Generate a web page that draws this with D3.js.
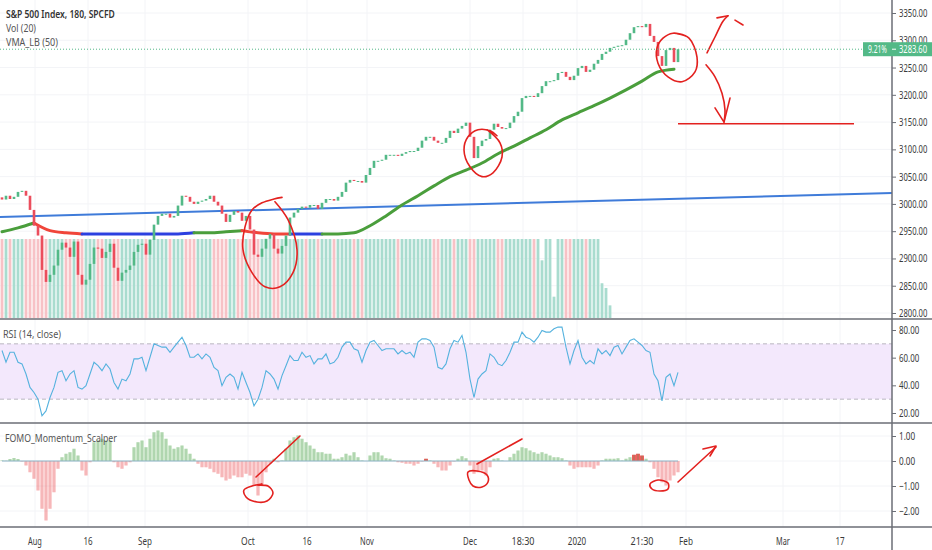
<!DOCTYPE html>
<html>
<head>
<meta charset="utf-8">
<script src="https://cdn.jsdelivr.net/npm/d3@7"></script>
<style>
html, body { margin: 0; padding: 0; background: #fff; }
svg { display: block; font-family: "Noto Sans", Roboto, sans-serif; }
</style>
</head>
<body>
<div id="chart"></div>
<script>
// 180 minute closes, one per bar
const closes = [
  3008, 3015, 3009, 3013, 3022, 3024, 3015, 2989, 2960, 2942,
  2879, 2857, 2870, 2887, 2916, 2929, 2920, 2903, 2931, 2870,
  2852, 2861, 2890, 2920, 2918, 2901, 2912, 2927, 2883, 2859,
  2874, 2879, 2887, 2912, 2925, 2927, 2907, 2934, 2962, 2978,
  2982, 2982, 2975, 2978, 2997, 3015, 3013, 3004, 3000, 3004,
  3006, 3009, 3015, 3004, 2997, 2982, 2967, 2980, 2987, 2984,
  2969, 2978, 2953, 2907, 2903, 2918, 2936, 2945, 2918, 2909,
  2923, 2942, 2975, 2984, 2991, 2995, 2993, 2998, 2998, 2991,
  3002, 3009, 3009, 3006, 3013, 3022, 3039, 3044, 3042, 3042,
  3039, 3053, 3066, 3079, 3079, 3081, 3090, 3090, 3090, 3088,
  3092, 3095, 3097, 3097, 3103, 3116, 3123, 3123, 3116, 3112,
  3112, 3121, 3134, 3130, 3138, 3143, 3149, 3123, 3084, 3106,
  3116, 3119, 3136, 3147, 3141, 3138, 3139, 3149, 3161, 3169,
  3194, 3198, 3198, 3196, 3203, 3216, 3225, 3225, 3227, 3240,
  3242, 3233, 3227, 3235, 3249, 3253, 3242, 3246, 3257, 3264,
  3275, 3279, 3286, 3288, 3290, 3291, 3301, 3313, 3324, 3326,
  3324, 3330, 3308, 3297, 3271, 3253, 3282, 3286, 3260, 3283.6
]
const firstOpen = 3012
const lastChange = '9.21%'

// volume, in % of the pane (most bars are clipped at the top)
const volumes = [
  100, 100, 100, 100, 100, 100, 100, 100, 100, 100,
  100, 100, 100, 100, 100, 100, 100, 100, 100, 100,
  100, 100, 100, 100, 100, 100, 100, 100, 100, 100,
  100, 100, 100, 100, 100, 100, 100, 100, 100, 100,
  100, 100, 100, 100, 100, 100, 100, 100, 100, 100,
  100, 100, 100, 100, 100, 100, 100, 100, 100, 100,
  100, 100, 100, 100, 100, 100, 100, 100, 100, 100,
  100, 100, 100, 100, 100, 100, 100, 100, 100, 100,
  100, 100, 100, 100, 100, 100, 100, 100, 100, 100,
  100, 100, 100, 100, 100, 100, 100, 100, 100, 100,
  100, 100, 100, 100, 100, 100, 100, 100, 100, 100,
  100, 100, 100, 100, 100, 100, 100, 100, 100, 100,
  100, 100, 100, 100, 100, 100, 100, 100, 100, 100,
  100, 100, 100, 100, 100, 73, 100, 100, 27, 100,
  100, 100, 100, 100, 100, 100, 100, 100, 100, 100,
  44, 38, 16
]

// VMA_LB (50), one point every 4 bars, with its state (g up, r down, b flat)
const vmaValues = [
  2949, 2956, 2965, 2951, 2947, 2945, 2945, 2945, 2945, 2945,
  2945, 2945, 2947, 2947, 2949, 2951, 2947, 2945, 2945, 2945,
  2945, 2945, 2947, 2960, 2978, 2998, 3015, 3033, 3050, 3062,
  3075, 3092, 3106, 3121, 3136, 3154, 3167, 3180, 3194, 3209,
  3225, 3242, 3247
]
const vmaStates = [
  'g', 'g', 'g', 'r', 'r', 'r', 'b', 'b', 'b', 'b',
  'b', 'b', 'b', 'g', 'g', 'g', 'r', 'r', 'r', 'b',
  'b', 'g', 'g', 'g', 'g', 'g', 'g', 'g', 'g', 'g',
  'g', 'g', 'g', 'g', 'g', 'g', 'g', 'g', 'g', 'g',
  'g', 'g', 'g'
]

// RSI (14, close)
const rsiValues = [
  65.2, 56.7, 63.9, 63.9, 56.7, 55.5, 48.2, 38.5, 34.8, 30,
  17.9, 21.5, 31.2, 38.5, 49.4, 50.6, 43.3, 48.2, 50.6, 38.5,
  37.3, 39.7, 48.2, 56.7, 54.2, 50.6, 55.5, 51.8, 42.1, 37.3,
  44.5, 43.3, 48.2, 59.1, 59.1, 60.3, 50.6, 60.3, 70, 68.8,
  67.6, 67.6, 63.9, 67.6, 71.2, 74.8, 68.8, 60.3, 60.3, 62.7,
  59.1, 62.7, 60.3, 53, 50.6, 39.7, 45.8, 48.2, 45.8, 37.3,
  49.4, 42.1, 34.8, 25.2, 30, 38.5, 50.6, 48.2, 44.5, 37.3,
  47, 54.2, 61.5, 57.9, 57.9, 63.9, 60.3, 61.5, 55.5, 59.1,
  59.1, 62.7, 55.5, 56.7, 60.3, 67.6, 71.2,
  71.2, 66.4, 65.2, 56.7, 65.2, 71.2, 72.4, 68.8, 65.2, 66.4,
  66.4, 66.4, 62.7, 65.2, 62.7, 63.9, 60.3, 71.2, 73.6, 73.6,
  72.4, 67.6, 53, 51.8, 55.5, 66.4, 72.4, 71.2, 76.1, 63.9,
  44.5, 31.2, 44.5, 48.2, 50.6, 62.7, 60.3, 55.5, 54.2, 57.9,
  63.9, 71.2, 71.2, 78.5, 74.8, 73.6, 71.2, 74.8, 79.7, 78.5,
  78.5, 80.9, 82.1, 82.1, 67.6, 55.5, 65.2, 72.4, 60.3, 55.5,
  57.9, 55.5, 66.4, 62.7, 65.2, 61.5, 67.6, 68.8, 62.7, 67.6,
  72.4, 73.6, 71.2, 68.8, 65.2, 63.9, 48.2, 43.3, 28.8, 45.8,
  48.2, 39.7, 49.4
]
const rsiBand = [30, 70]

// FOMO_Momentum_Scalper histogram
const momValues = [
  0.02, 0.01, 0.08, 0.12, 0.08, -0.02, -0.18, -0.45, -0.71, -1.18,
  -1.91, -2.38, -1.91, -1.25, -0.31, 0.15, 0.29, 0.35, 0.49, 0.22,
  -0.38, -0.58, -0.05, 0.75, 0.82, 0.89, 0.82, 0.82, -0.05, -0.25,
  -0.31, -0.18, -0.05, 0.55, 0.75, 0.82, 0.55, 0.89, 1.15, 1.22,
  1.15, 0.89, 0.62, 0.49, 0.55, 0.62, 0.49, 0.29, 0.09, -0.11,
  -0.25, -0.25, -0.31, -0.45, -0.51, -0.65, -0.78, -0.71, -0.58, -0.65,
  -0.65, -0.51, -0.58, -0.98, -1.38, -0.98, -0.45, -0.11, 0.09, -0.05,
  0.02, 0.49, 0.82, 0.95, 1.02, 0.89, 0.75, 0.62, 0.49, 0.35,
  0.35, 0.29, 0.29, 0.09, 0.09, 0.15, 0.29,
  0.22, 0.35, 0.15, 0.02, 0, 0.22, 0.35, 0.35, 0.22, 0.11,
  0.09, 0.02, -0.05, -0.07, -0.11, -0.11, -0.18, -0.11, -0.02, 0.09,
  0.02, -0.11, -0.25, -0.38, -0.38, -0.18, -0.02, 0.09, 0.19, 0.11,
  -0.18, -0.51, -0.45, -0.38, -0.58, -0.25, 0.09, 0.11, 0.02, 0,
  0.15, 0.29, 0.42, 0.55, 0.51, 0.42, 0.35, 0.29, 0.35, 0.29,
  0.22, 0.15, 0.15, 0.11, 0.02, -0.18, -0.31, -0.25, -0.25, -0.25,
  -0.25, -0.31, -0.18, 0.02, 0.09, 0.09, 0.09, 0.11, 0.02, 0.09,
  0.15, 0.25, 0.29, 0.22, 0.09, -0.05, -0.31, -0.65, -0.85, -0.98,
  -0.78, -0.58, -0.45
]
const momStrongBars = [106, 158, 159, 160]

// long blue trend line and the red target line, [bar, price]
const trendLine = [[-0.5, 2976], [222.5, 3020]]
const targetLine = [[169, 3147], [213, 3147]]

// axis labels
const priceTicks = [2800, 2850, 2900, 2950, 3000, 3050, 3100, 3150, 3200, 3250, 3300, 3350]
const rsiTicks = [20, 40, 60, 80]
const momTicks = [-2, -1, 0, 1]
const xTickLabels = ['Aug', '16', 'Sep', 'Oct', '16', 'Nov', 'Dec', '18:30', '2020', '21:30', 'Feb', 'Mar', '17']
const xTickBars = [8.25, 21.5, 35.75, 61.5, 76.25, 91.25, 117, 130.25, 143.75, 160, 171, 195.25, 209.5]

// hand drawn marks, [bar, price] in the main pane and [bar, value] in the lower one
const mainNotes = [
  { pts: [[68.25, 3004], [71.5, 2971], [73.75, 2916], [72.75, 2874], [69.5, 2848], [65.75, 2848], [62.5, 2874], [60.25, 2916], [60.75, 2958], [62.5, 2989], [65, 3002], [68, 3009], [70, 3012]], curve: 'round' },
  { pts: [[121.25, 3136], [124.5, 3112], [125, 3086], [122.75, 3057], [120, 3050], [117, 3068], [115.5, 3099], [116.5, 3123], [119, 3136], [122, 3134], [123.75, 3125]], curve: 'round' },
  { pts: [[168.75, 3312], [171.75, 3304], [173.75, 3269], [173.25, 3242], [170, 3224], [166.5, 3233], [164, 3258], [163.75, 3286], [165.25, 3304], [167.75, 3313], [171, 3308]], curve: 'round' },
  { pts: [[176.25, 3277], [178.25, 3306], [180.25, 3335], [181.5, 3345]], curve: 'round' },
  { pts: [[178.75, 3341], [181.5, 3345]], curve: 'line' },
  { pts: [[183.25, 3337], [185.25, 3328]], curve: 'line' },
  { pts: [[176, 3255], [178.25, 3233], [180, 3203], [180.75, 3172], [180.5, 3150]], curve: 'round' },
  { pts: [[178.25, 3176], [180.5, 3150], [182, 3194]], curve: 'line' }
]
const momNotes = [
  { pts: [[63.75, -0.96], [66.5, -1.0], [67.75, -1.28], [66.25, -1.6], [63.75, -1.64], [61, -1.44], [60.5, -1.16], [62.5, -1.0], [65, -0.92]], curve: 'closed' },
  { pts: [[63.5, -0.64], [74.5, 1.0]], curve: 'line' },
  { pts: [[116.5, -0.44], [118.75, -0.4], [121.25, -0.56], [121.5, -0.84], [120, -1.04], [117.75, -1.0], [116.75, -0.76]], curve: 'closed' },
  { pts: [[118.75, -0.12], [130, 0.88]], curve: 'line' },
  { pts: [[162, -0.92], [164, -0.76], [166.5, -0.88], [166.5, -1.12], [164.5, -1.2], [162.5, -1.12]], curve: 'closed' },
  { pts: [[169, -0.84], [178.5, 0.56]], curve: 'line' },
  { pts: [[175.25, 0.48], [178.5, 0.6], [177, 0.2]], curve: 'line' }
]

const W = 932
const H = 550
const axisX = 892
const mainBottom = 319
const rsiBottom = 423
const momBottom = 527
const upColor = '#53b987'
const downColor = '#eb4d5c'
const noteColor = '#e3211f'
const lineGrey = '#6b6e76'
const textColor = '#3a3a3a'

const svg = d3.select('#chart').append('svg').attr('width', W).attr('height', H)

const x = d3.scaleLinear().domain([-0.5, 222.5]).range([0, axisX])
const priceY = d3.scaleLinear().domain([2800, 3350]).range([313, 13])
const volY = d3.scaleLinear().domain([0, 100]).range([318, 239])
const rsiY = d3.scaleLinear().domain([20, 80]).range([413, 330])
const momY = d3.scaleLinear().domain([-2, 1]).range([511, 436])

// squeeze a text horizontally to the width it has in the picture
function squeeze(sel, widthOf) {
  sel.each(function(d, i) {
    const t = d3.select(this)
    const tx = +t.attr('x') || 0
    const ty = +t.attr('y') || 0
    const natural = this.getComputedTextLength()
    const s = natural > 0 ? widthOf(this.textContent, d, i) / natural : 1
    t.attr('x', 0).attr('y', 0)
      .attr('transform', `translate(${tx},${ty}) scale(${s},1)`)
  })
}

const defs = svg.append('defs')
defs.append('clipPath').attr('id', 'clipMain')
  .append('rect').attr('x', 0).attr('y', 0).attr('width', axisX).attr('height', mainBottom)
defs.append('clipPath').attr('id', 'clipRsi')
  .append('rect').attr('x', 0).attr('y', mainBottom).attr('width', axisX).attr('height', rsiBottom - mainBottom)
defs.append('clipPath').attr('id', 'clipMom')
  .append('rect').attr('x', 0).attr('y', rsiBottom).attr('width', axisX).attr('height', momBottom - rsiBottom)

// faint grid
const grid = svg.append('g').attr('stroke', '#f3f4f7').attr('stroke-width', 1)
grid.selectAll('.vgrid').data(xTickBars).enter().append('line')
  .attr('x1', d => x(d)).attr('x2', d => x(d)).attr('y1', 0).attr('y2', momBottom)
grid.selectAll('.pgrid').data(priceTicks).enter().append('line')
  .attr('x1', 0).attr('x2', axisX).attr('y1', d => priceY(d)).attr('y2', d => priceY(d))
grid.selectAll('.mgrid').data(momTicks).enter().append('line')
  .attr('x1', 0).attr('x2', axisX).attr('y1', d => momY(d)).attr('y2', d => momY(d))

// ---- main pane
const main = svg.append('g').attr('clip-path', 'url(#clipMain)')
const opens = closes.map((c, i) => i === 0 ? firstOpen : closes[i - 1])

main.selectAll('.vol').data(volumes).enter().append('rect')
  .attr('x', (d, i) => x(i) - 1.4)
  .attr('width', 2.8)
  .attr('y', d => volY(d))
  .attr('height', d => volY(0) - volY(d))
  .attr('fill', (d, i) => closes[i] >= opens[i] ? '#a9dccf' : '#f7c2c6')

main.append('line')
  .attr('x1', x(trendLine[0][0])).attr('y1', priceY(trendLine[0][1]))
  .attr('x2', x(trendLine[1][0])).attr('y2', priceY(trendLine[1][1]))
  .attr('stroke', '#3f7bd9').attr('stroke-width', 2)

// VMA drawn in runs of the same state
const vmaColor = { g: '#4a9e3c', r: '#f0453a', b: '#2b3fe0' }
const vmaLine = d3.line().x(d => x(d[0])).y(d => priceY(d[1])).curve(d3.curveMonotoneX)
let run = [[0, vmaValues[0]]]
let runState = vmaStates[1]
for (let k = 1; k < vmaValues.length; k++) {
  const p = [k * 4, vmaValues[k]]
  if (vmaStates[k] !== runState) {
    main.append('path').attr('d', vmaLine(run)).attr('fill', 'none')
      .attr('stroke', vmaColor[runState]).attr('stroke-width', 3).attr('stroke-linecap', 'round')
    run = [run[run.length - 1]]
    runState = vmaStates[k]
  }
  run.push(p)
}
main.append('path').attr('d', vmaLine(run)).attr('fill', 'none')
  .attr('stroke', vmaColor[runState]).attr('stroke-width', 3).attr('stroke-linecap', 'round')

main.selectAll('.candle').data(closes).enter().append('rect')
  .attr('x', (d, i) => x(i) - 1.3)
  .attr('width', 2.6)
  .attr('y', (d, i) => priceY(Math.max(d, opens[i])))
  .attr('height', (d, i) => Math.max(1, Math.abs(priceY(d) - priceY(opens[i]))))
  .attr('fill', (d, i) => d >= opens[i] ? upColor : downColor)

// last price dotted line
const lastPrice = closes[closes.length - 1]
svg.append('line')
  .attr('x1', 0).attr('x2', axisX)
  .attr('y1', priceY(lastPrice)).attr('y2', priceY(lastPrice))
  .attr('stroke', upColor).attr('stroke-width', 1).attr('stroke-dasharray', '1,2')

main.append('line')
  .attr('x1', x(targetLine[0][0])).attr('y1', priceY(targetLine[0][1]))
  .attr('x2', x(targetLine[1][0])).attr('y2', priceY(targetLine[1][1]))
  .attr('stroke', noteColor).attr('stroke-width', 1.5)

function drawNotes(group, notes, yScale) {
  notes.forEach(n => {
    let curve = d3.curveLinear
    if (n.curve === 'round') curve = d3.curveCatmullRom
    if (n.curve === 'closed') curve = d3.curveCatmullRomClosed
    const line = d3.line().x(d => x(d[0])).y(d => yScale(d[1])).curve(curve)
    group.append('path').attr('d', line(n.pts)).attr('fill', 'none')
      .attr('stroke', noteColor).attr('stroke-width', 1.6)
      .attr('stroke-linecap', 'round').attr('stroke-linejoin', 'round')
  })
}
drawNotes(main, mainNotes, priceY)

// ---- RSI pane
const rsiG = svg.append('g').attr('clip-path', 'url(#clipRsi)')
rsiG.append('rect')
  .attr('x', 0).attr('width', axisX)
  .attr('y', rsiY(rsiBand[1])).attr('height', rsiY(rsiBand[0]) - rsiY(rsiBand[1]))
  .attr('fill', '#f3e8fc')
rsiG.selectAll('.band').data(rsiBand).enter().append('line')
  .attr('x1', 0).attr('x2', axisX)
  .attr('y1', d => rsiY(d)).attr('y2', d => rsiY(d))
  .attr('stroke', '#b9b6c0').attr('stroke-dasharray', '4,3')
rsiG.append('path')
  .datum(rsiValues)
  .attr('d', d3.line().x((d, i) => x(i)).y(d => rsiY(d)))
  .attr('fill', 'none').attr('stroke', '#55b2de').attr('stroke-width', 1.1)

// ---- momentum pane
const momG = svg.append('g').attr('clip-path', 'url(#clipMom)')
momG.selectAll('.mom').data(momValues).enter().append('rect')
  .attr('x', (d, i) => x(i) - 2)
  .attr('width', 4)
  .attr('y', d => momY(Math.max(0, d)))
  .attr('height', d => Math.abs(momY(d) - momY(0)))
  .attr('fill', (d, i) => momStrongBars.includes(i) ? 'rgba(235,40,40,0.75)' : d >= 0 ? 'rgba(96,180,90,0.3)' : 'rgba(240,90,95,0.28)')
momG.selectAll('.momline').data(momValues).enter().append('line')
  .attr('x1', (d, i) => x(i)).attr('x2', (d, i) => x(i))
  .attr('y1', momY(0)).attr('y2', d => momY(d))
  .attr('stroke', d => d >= 0 ? 'rgba(70,150,70,0.45)' : 'rgba(230,80,85,0.4)')
  .attr('stroke-width', 1)
momG.append('line')
  .attr('x1', x(0)).attr('x2', x(momValues.length - 1))
  .attr('y1', momY(0)).attr('y2', momY(0))
  .attr('stroke', '#8cb4c6').attr('stroke-width', 1)
drawNotes(momG, momNotes, momY)

// ---- frame lines
const frame = svg.append('g').attr('stroke', lineGrey).attr('stroke-width', 1.5)
;[mainBottom, rsiBottom, momBottom].forEach(yy => {
  frame.append('line').attr('x1', 0).attr('x2', W).attr('y1', yy).attr('y2', yy)
})
frame.append('line').attr('x1', axisX).attr('x2', axisX).attr('y1', 0).attr('y2', H)

// ---- right axes
function rightAxis(scale, ticks, fmt) {
  const g = svg.append('g').attr('transform', `translate(${axisX},0)`)
    .call(d3.axisRight(scale).tickValues(ticks).tickFormat(fmt).tickSize(4).tickPadding(3))
  g.select('.domain').remove()
  g.selectAll('.tick line').attr('stroke', lineGrey)
  const labels = g.selectAll('.tick text')
    .attr('fill', textColor)
    .attr('font-size', 11)
    .attr('font-family', '"Noto Sans", Roboto, sans-serif')
  squeeze(labels, s => s.length * 4.05)
  return g
}
rightAxis(priceY, priceTicks, d3.format('.2f'))
rightAxis(rsiY, rsiTicks, d3.format('.2f'))
rightAxis(momY, momTicks, d3.format('.2f'))

// last price tag
const tagY = priceY(lastPrice)
svg.append('rect').attr('x', 863).attr('y', tagY - 7).attr('width', W - 863).attr('height', 14).attr('fill', upColor)
svg.append('line').attr('x1', axisX).attr('x2', axisX + 4).attr('y1', tagY).attr('y2', tagY).attr('stroke', '#fff')
const tagTexts = svg.selectAll('.tag').data([[868, lastChange, 19], [899, d3.format('.2f')(lastPrice), 28]])
  .enter().append('text')
  .attr('x', d => d[0]).attr('y', tagY + 4)
  .attr('fill', '#fff').attr('font-size', 11)
  .text(d => d[1])
squeeze(tagTexts, (s, d) => d[2])

// ---- time axis labels
const xLabels = svg.selectAll('.xlab').data(xTickLabels).enter().append('text')
  .attr('x', (d, i) => x(xTickBars[i]))
  .attr('y', 545)
  .attr('text-anchor', 'middle')
  .attr('font-size', 11)
  .attr('fill', textColor)
  .text(d => d)
squeeze(xLabels, s => s.length * 4.6)

// ---- legends
const legends = [
  { text: 'S&P 500 Index, 180, SPCFD', x: 6, y: 18, w: 109, weight: 600, color: '#333' },
  { text: 'Vol (20)', x: 6, y: 32, w: 30, weight: 400, color: '#555' },
  { text: 'VMA_LB (50)', x: 6, y: 46, w: 52, weight: 400, color: '#555' },
  { text: 'RSI (14, close)', x: 3, y: 338, w: 58, weight: 400, color: '#555' },
  { text: 'FOMO_Momentum_Scalper', x: 5, y: 442, w: 112, weight: 400, color: '#555' }
]
const legendTexts = svg.selectAll('.legend').data(legends).enter().append('text')
  .attr('x', d => d.x).attr('y', d => d.y)
  .attr('font-size', 11.5)
  .attr('font-weight', d => d.weight)
  .attr('fill', d => d.color)
  .text(d => d.text)
squeeze(legendTexts, (s, d) => d.w)
</script>
</body>
</html>
